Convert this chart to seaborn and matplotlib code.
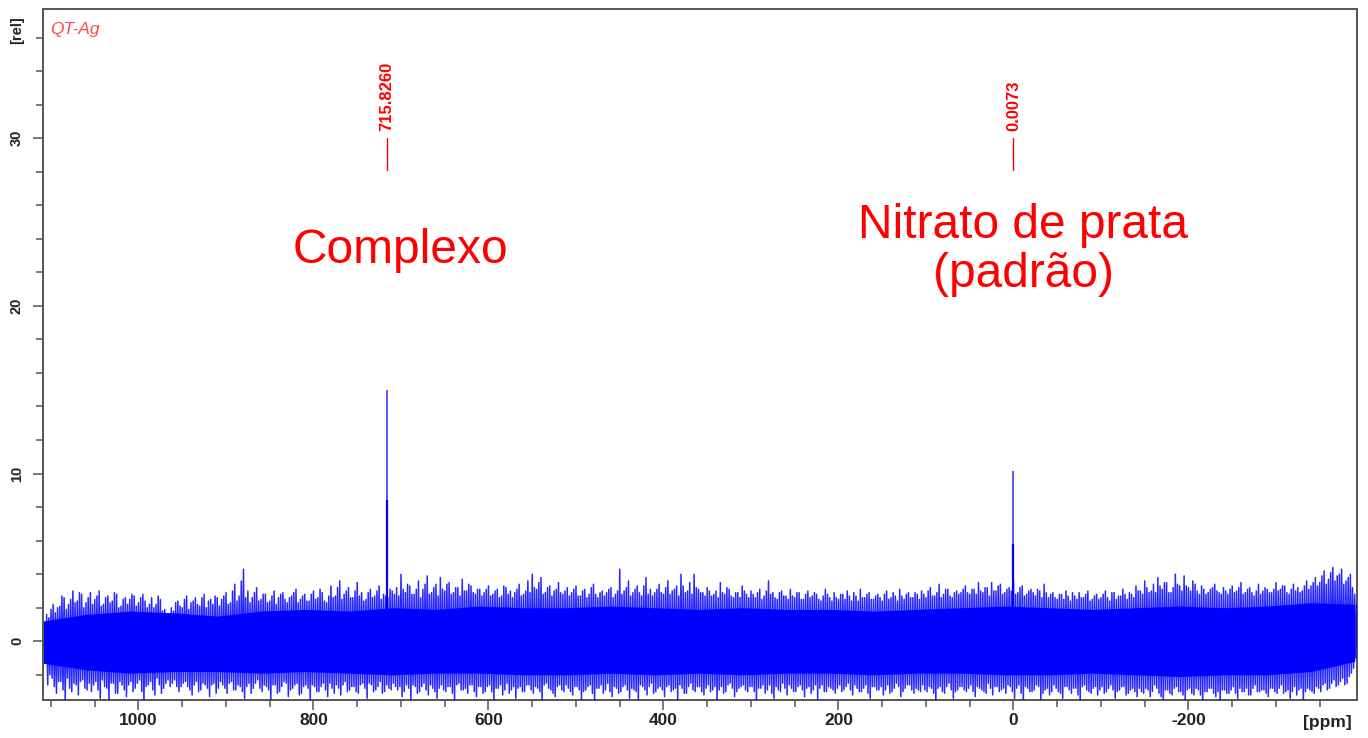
import numpy as np
import pandas as pd
import matplotlib
matplotlib.use("Agg")
import matplotlib.pyplot as plt
import seaborn as sns
from matplotlib.ticker import MultipleLocator, FixedLocator

# ---------------- data ----------------
# noise extremes sampled every 5 ppm from 1105 down to -390 ppm
noise_ppm_start = 1105
noise_ppm_step = -5
noise_hi = [
    1.6, 1.9, 1.7, 2.1, 2.6, 2.2, 3.0, 2.4, 2.8, 2.3,
    2.9, 2.5, 3.0, 2.2, 2.7, 2.4, 2.8, 2.1, 2.6, 2.5,
    2.7, 2.3, 2.8, 2.0, 2.6, 2.2, 2.5, 1.9, 1.5, 1.8,
    2.4, 2.0, 2.7, 2.3, 2.6, 2.1, 2.8, 2.4, 2.2, 2.6,
    2.5, 2.9, 2.3, 3.4, 2.7, 4.3, 3.0, 2.6, 3.2, 2.5,
    2.8, 2.4, 3.0, 2.6, 2.9, 2.3, 2.7, 3.1, 2.5, 2.8,
    2.4, 3.0, 2.6, 2.9, 2.3, 3.3, 2.7, 3.6, 2.8, 3.2,
    2.6, 3.5, 2.9, 2.5, 3.1, 2.7, 3.3, 2.8, 2.6, 3.0,
    3.2, 4.0, 2.9, 3.3, 2.8, 3.6, 3.1, 3.9, 2.9, 3.4,
    3.8, 3.0, 3.5, 2.9, 3.2, 3.7, 3.0, 3.3, 2.8, 3.1,
    2.9, 3.3, 2.8, 3.1, 2.7, 3.2, 3.0, 2.9, 3.4, 2.8,
    3.6, 4.0, 3.1, 3.8, 2.9, 3.3, 3.0, 3.5, 2.8, 3.2,
    2.9, 3.3, 2.7, 3.1, 2.8, 3.4, 2.6, 3.0, 2.9, 3.2,
    2.8, 4.3, 3.0, 3.6, 2.9, 3.3, 2.7, 3.8, 3.1, 2.9,
    3.4, 2.8, 3.6, 3.0, 3.3, 4.0, 2.9, 3.5, 4.0, 3.1,
    2.9, 3.2, 2.7, 3.0, 3.5, 2.8, 3.1, 2.6, 2.9, 3.3,
    2.8, 3.0, 2.6, 3.1, 2.7, 3.6, 2.9, 2.5, 3.0, 2.7,
    3.1, 2.6, 2.9, 2.5, 3.0, 2.7, 2.8, 2.4, 3.1, 2.6,
    2.9, 2.5, 2.8, 3.0, 2.4, 2.7, 3.1, 2.6, 2.9, 2.5,
    2.8, 2.4, 3.0, 2.6, 2.7, 3.1, 2.5, 2.9, 2.6, 2.8,
    3.0, 2.6, 3.2, 2.7, 3.4, 2.8, 3.1, 2.6, 3.0, 2.9,
    3.3, 2.8, 3.1, 3.5, 2.9, 3.2, 3.5, 3.0, 3.4, 2.9,
    3.2, 3.6, 2.9, 3.3, 2.8, 3.1, 2.7, 3.0, 3.4, 2.6,
    2.9, 2.5, 2.8, 3.0, 2.4, 2.7, 2.9, 2.6, 3.0, 2.5,
    2.8, 2.6, 3.0, 2.4, 2.9, 2.7, 3.1, 2.5, 2.8, 3.3,
    3.0, 3.6, 2.9, 3.4, 3.8, 3.1, 3.5, 2.9, 4.0, 3.3,
    3.9, 3.2, 3.6, 3.0, 3.3, 2.8, 3.1, 3.4, 2.9, 3.2,
    2.8, 3.3, 3.0, 3.5, 2.9, 3.2, 2.7, 3.4, 3.0, 3.1,
    2.9, 3.5, 3.1, 3.3, 2.8, 3.4, 3.2, 3.0, 3.6, 3.3,
    3.8, 3.5, 4.2, 3.7, 4.4, 3.9, 4.3, 3.6, 4.0, 2.8,
]
noise_lo = [
    -2.6, -2.2, -3.1, -2.4, -3.6, -2.8, -2.5, -3.2, -2.3, -2.9,
    -3.0, -2.4, -3.4, -2.7, -3.6, -2.5, -3.1, -2.6, -3.3, -2.4,
    -2.8, -2.3, -3.6, -2.6, -2.9, -2.2, -3.1, -2.5, -2.7, -2.3,
    -3.0, -2.5, -2.7, -3.2, -2.4, -2.9, -2.6, -3.3, -2.5, -2.8,
    -2.6, -3.1, -2.4, -2.9, -2.7, -3.4, -2.5, -2.8, -2.3, -3.0,
    -2.7, -3.5, -2.6, -3.0, -2.4, -3.3, -2.8, -2.5, -3.1, -2.6,
    -3.6, -2.7, -3.0, -2.5, -3.3, -2.8, -2.6, -3.2, -2.4, -2.9,
    -2.7, -3.1, -2.5, -3.4, -2.6, -2.9, -2.4, -3.0, -2.8, -2.5,
    -2.9, -3.3, -2.6, -3.6, -2.7, -3.0, -2.5, -3.2, -2.8, -3.4,
    -2.6, -3.0, -2.7, -3.5, -2.5, -2.9, -3.1, -2.6, -3.3, -2.7,
    -3.0, -2.6, -3.6, -2.8, -3.2, -2.5, -2.9, -3.4, -2.7, -3.0,
    -2.6, -3.1, -2.8, -3.6, -2.5, -2.9, -3.3, -2.6, -3.0, -2.8,
    -3.2, -2.7, -3.5, -2.9, -2.6, -3.6, -2.8, -3.1, -2.5, -3.3,
    -2.8, -3.0, -2.6, -3.4, -2.9, -3.6, -2.7, -3.2, -2.5, -3.0,
    -2.7, -3.3, -2.6, -2.9, -3.5, -2.8, -3.1, -2.5, -3.0, -2.7,
    -3.2, -2.6, -2.9, -3.6, -2.7, -3.0, -2.5, -3.3, -2.8, -2.6,
    -3.0, -2.7, -3.6, -2.8, -3.1, -2.6, -3.4, -2.9, -2.5, -3.2,
    -2.8, -3.0, -2.6, -3.3, -2.7, -2.9, -3.5, -2.6, -3.0, -2.8,
    -3.1, -2.6, -2.9, -2.5, -3.2, -2.8, -3.0, -2.6, -3.4, -2.7,
    -2.9, -3.2, -2.6, -3.0, -2.5, -3.3, -2.8, -2.6, -3.1, -2.9,
    -2.6, -3.0, -2.8, -3.6, -2.7, -3.1, -2.5, -3.4, -2.9, -2.7,
    -3.0, -2.6, -3.3, -2.8, -3.0, -2.5, -3.2, -2.7, -2.9, -3.1,
    -2.7, -3.4, -2.6, -3.6, -2.8, -3.0, -2.6, -3.5, -2.9, -3.2,
    -2.6, -3.0, -3.4, -2.7, -3.1, -2.8, -3.6, -2.6, -3.0, -2.8,
    -3.2, -2.7, -3.0, -2.6, -3.4, -2.9, -2.7, -3.1, -2.8, -3.3,
    -3.0, -2.8, -3.3, -2.6, -3.1, -3.6, -2.9, -3.2, -2.7, -3.0,
    -3.5, -2.8, -3.2, -2.9, -3.6, -3.0, -2.8, -3.3, -3.6, -2.9,
    -3.1, -2.7, -3.4, -3.0, -2.8, -3.2, -2.6, -3.0, -2.9, -3.3,
    -2.8, -3.1, -2.6, -3.0, -3.4, -2.7, -2.9, -3.6, -2.8, -3.0,
    -2.7, -3.0, -2.5, -2.8, -2.3, -2.6, -2.2, -2.5, -1.9, -1.0,
]
# in-between samples (offset by 2.5 ppm from the ones above)
noise_hi2 = [
    1.4, 2.2, 2.0, 2.7, 1.9, 2.5, 2.3, 2.9, 2.0, 2.6,
    2.2, 2.7, 2.1, 2.6, 2.3, 2.9, 2.0, 2.5, 2.2, 2.8,
    2.1, 2.6, 2.4, 2.2, 2.0, 2.7, 1.8, 1.6, 2.0, 2.3,
    2.1, 2.5, 1.9, 2.4, 2.2, 2.6, 2.0, 2.5, 2.7, 2.1,
    2.7, 2.2, 3.0, 2.4, 3.6, 2.6, 2.3, 2.9, 2.4, 2.8,
    2.3, 2.7, 2.2, 2.8, 2.5, 2.6, 2.9, 2.3, 2.7, 2.4,
    2.8, 2.5, 3.1, 2.4, 2.7, 2.6, 3.2, 2.5, 3.0, 2.6,
    3.0, 2.7, 2.4, 2.9, 2.6, 3.0, 2.5, 2.7, 3.1, 2.8,
    2.7, 3.1, 3.4, 2.8, 3.1, 2.6, 3.4, 2.8, 3.2, 2.7,
    3.1, 3.4, 2.8, 3.2, 2.7, 3.0, 3.4, 2.9, 3.1, 2.7,
    3.1, 2.7, 3.0, 2.6, 3.3, 2.8, 2.6, 3.1, 2.7, 3.0,
    2.9, 3.2, 3.5, 2.8, 3.2, 2.7, 3.1, 2.9, 3.0, 2.7,
    3.1, 2.7, 3.0, 2.6, 3.2, 2.8, 2.9, 2.7, 3.1, 2.6,
    3.0, 2.8, 3.2, 2.7, 3.1, 2.9, 3.3, 2.8, 2.7, 3.1,
    2.9, 3.2, 2.8, 3.1, 2.7, 3.3, 3.0, 2.8, 3.2, 2.9,
    2.7, 3.0, 2.8, 2.6, 2.9, 3.2, 2.7, 2.9, 2.6, 3.0,
    2.6, 2.8, 2.9, 2.5, 3.0, 2.8, 2.6, 2.9, 2.7, 2.5,
    2.7, 2.9, 2.5, 2.8, 2.6, 2.9, 2.5, 2.7, 2.8, 2.4,
    2.6, 2.8, 2.5, 2.7, 2.9, 2.4, 2.6, 2.8, 2.5, 2.7,
    2.6, 2.8, 2.5, 2.9, 2.4, 2.7, 2.8, 2.6, 2.9, 2.5,
    2.8, 3.0, 2.7, 2.9, 2.6, 3.1, 2.7, 2.9, 2.8, 3.1,
    2.9, 3.1, 2.8, 3.0, 3.2, 2.7, 3.0, 3.3, 2.8, 3.1,
    3.0, 2.8, 3.2, 2.7, 3.0, 2.9, 3.1, 2.6, 2.9, 2.8,
    2.6, 2.8, 2.5, 2.7, 2.9, 2.5, 2.6, 2.8, 2.4, 2.7,
    2.5, 2.8, 2.6, 2.9, 2.5, 2.7, 2.8, 2.9, 2.6, 3.0,
    2.8, 3.2, 3.0, 2.9, 3.3, 3.5, 2.9, 3.2, 3.4, 3.0,
    3.3, 3.0, 3.4, 2.8, 3.1, 2.9, 3.2, 3.0, 2.8, 3.0,
    3.1, 2.9, 3.2, 2.8, 3.1, 2.9, 3.0, 2.8, 3.2, 2.9,
    3.1, 3.0, 3.3, 2.9, 3.1, 3.0, 2.9, 3.3, 3.1, 3.5,
    3.3, 3.9, 3.4, 4.1, 3.6, 4.0, 3.4, 3.8, 3.2, 2.2,
]
noise_lo2 = [
    -2.0, -2.7, -2.4, -2.9, -2.2, -3.0, -2.6, -2.4, -2.8, -2.5,
    -2.6, -2.9, -2.3, -2.8, -2.5, -3.1, -2.4, -2.9, -2.6, -3.0,
    -2.5, -3.0, -2.7, -2.4, -3.2, -2.6, -2.8, -2.3, -2.5, -2.7,
    -2.7, -2.4, -2.9, -2.6, -3.0, -2.5, -2.8, -2.6, -3.1, -2.4,
    -2.8, -2.5, -2.9, -2.6, -3.0, -2.7, -3.1, -2.5, -2.8, -2.6,
    -2.9, -2.6, -3.1, -2.7, -2.5, -2.9, -2.6, -3.2, -2.7, -2.8,
    -2.6, -3.0, -2.7, -2.9, -2.5, -3.1, -2.8, -2.6, -3.0, -2.7,
    -3.0, -2.6, -2.8, -2.5, -3.0, -2.7, -3.1, -2.6, -2.9, -2.7,
    -2.7, -3.0, -2.8, -2.6, -3.1, -2.7, -2.9, -2.6, -3.0, -2.8,
    -2.9, -2.7, -3.1, -2.6, -2.9, -2.8, -2.6, -3.0, -2.7, -3.1,
    -2.7, -3.0, -2.8, -2.6, -2.9, -3.1, -2.7, -2.8, -3.0, -2.6,
    -2.9, -2.7, -3.0, -2.6, -2.8, -3.1, -2.7, -2.9, -2.6, -3.0,
    -2.7, -2.9, -3.0, -2.7, -3.1, -2.8, -2.6, -2.9, -3.0, -2.7,
    -3.1, -2.7, -2.9, -2.8, -3.0, -2.6, -2.9, -2.7, -3.1, -2.8,
    -2.9, -2.7, -3.0, -2.8, -2.6, -3.1, -2.7, -2.9, -2.7, -3.0,
    -2.8, -3.0, -2.7, -2.9, -3.1, -2.6, -2.8, -3.0, -2.7, -2.9,
    -2.7, -3.0, -2.8, -2.6, -2.9, -3.1, -2.7, -3.0, -2.8, -2.6,
    -3.0, -2.7, -2.9, -2.8, -3.1, -2.6, -2.8, -3.0, -2.7, -2.9,
    -2.8, -3.0, -2.7, -2.9, -2.6, -3.0, -2.8, -3.1, -2.7, -2.9,
    -2.7, -2.9, -3.1, -2.8, -2.7, -3.0, -2.6, -2.9, -2.8, -3.0,
    -2.9, -2.7, -3.1, -2.8, -3.0, -2.7, -2.9, -3.0, -2.7, -2.9,
    -2.8, -3.0, -2.7, -2.9, -3.1, -2.8, -2.7, -3.0, -2.8, -2.6,
    -3.0, -2.8, -3.1, -2.7, -3.0, -2.9, -2.7, -3.1, -2.8, -3.0,
    -2.8, -3.1, -2.7, -2.9, -2.8, -3.2, -2.7, -2.9, -3.1, -2.7,
    -2.9, -3.1, -2.8, -2.9, -3.0, -2.7, -3.2, -2.9, -3.0, -2.8,
    -3.1, -2.9, -3.0, -2.8, -3.3, -2.9, -3.1, -2.8, -3.0, -3.2,
    -2.9, -3.1, -2.8, -3.2, -3.0, -2.8, -3.1, -3.0, -2.9, -3.1,
    -2.9, -3.1, -2.8, -3.0, -3.2, -2.8, -3.0, -2.9, -3.1, -2.8,
    -3.0, -2.8, -3.1, -2.9, -3.0, -3.2, -2.8, -3.0, -2.9, -3.1,
    -2.8, -2.6, -2.9, -2.5, -2.7, -2.4, -2.6, -2.1, -1.6, -0.9,
]
# dense (solid) core of the noise band, every 50 ppm from 1110 to -390
core_ppm = [1110, 1060, 1010, 960, 910, 860, 810, 760, 710, 660, 610,
            560, 510, 460, 410, 360, 310, 260, 210, 160, 110, 60, 10,
            -40, -90, -140, -190, -240, -290, -340, -390]
core_hi = [1.2, 1.6, 1.8, 1.7, 1.5, 1.8, 1.9, 1.8, 2.0, 1.9, 2.1,
           2.0, 2.0, 2.1, 2.0, 1.9, 2.0, 1.9, 1.9, 1.8, 1.9, 2.0, 2.1,
           2.0, 1.9, 2.0, 2.1, 2.0, 2.1, 2.3, 2.2]
core_lo = [-1.3, -1.7, -1.9, -1.8, -1.8, -1.9, -1.8, -1.9, -2.0, -1.9, -1.9,
           -2.0, -2.0, -1.9, -2.0, -1.9, -2.0, -1.9, -1.9, -2.0, -1.9, -1.9,
           -2.0, -2.0, -1.9, -2.0, -2.1, -2.0, -2.0, -1.8, -1.2]
# signals
peak_ppm = [715.8260, 0.0073]
peak_top = [15.0, 10.15]
peak_mid = [8.4, 5.8]
peak_names = ["Complexo", "Nitrato de prata\n(padrão)"]

x_major_ticks = [1000, 800, 600, 400, 200, 0, -200]
x_major_labels = ["1000", "800", "600", "400", "200", "0", "-200"]
y_major_ticks = [0, 10, 20, 30]

# ---------------- figure ----------------
sns.set_theme(style="white")
plt.rcParams['font.family'] = ['Liberation Sans', 'DejaVu Sans']

W, H = 1368, 738
fig = plt.figure(figsize=(W / 100, H / 100), dpi=100)
ax = fig.add_axes([0.0312, 0.0515, 0.9605, 0.9363])

BLUE = "#0000ff"
RED = "#ff0000"
GREY = "#555555"

n = len(noise_hi)
ppm = noise_ppm_start + noise_ppm_step * np.arange(n)
q = noise_ppm_step / 4
xs = np.empty(4 * n)
ys = np.empty(4 * n)
xs[0::4] = ppm
xs[1::4] = ppm + q
xs[2::4] = ppm + 2 * q
xs[3::4] = ppm + 3 * q
ys[0::4] = noise_hi
ys[1::4] = noise_lo
ys[2::4] = noise_hi2
ys[3::4] = noise_lo2
df = pd.DataFrame({"ppm": xs, "rel": ys})

ax.fill_between(core_ppm, core_lo, core_hi, color=BLUE, lw=0, zorder=2)
sns.lineplot(data=df, x="ppm", y="rel", sort=False, estimator=None,
             color=BLUE, lw=1.1, alpha=0.85, ax=ax, zorder=3)
ax.vlines(peak_ppm, 0, peak_top, color=BLUE, lw=1.3, alpha=0.7, zorder=4)
ax.vlines(peak_ppm, 0, peak_mid, color=BLUE, lw=1.6, zorder=5)

ax.set_xlim(1109.5, -392.2)
ax.set_ylim(-3.5, 37.7)
ax.set_xlabel("")
ax.set_ylabel("")

ax.xaxis.set_major_locator(FixedLocator(x_major_ticks))
ax.set_xticklabels(x_major_labels)
ax.xaxis.set_minor_locator(MultipleLocator(50))
ax.yaxis.set_major_locator(FixedLocator(y_major_ticks))
ax.yaxis.set_minor_locator(MultipleLocator(2))
ax.tick_params(axis="both", which="major", direction="out", length=7.5,
               width=1.1, color=GREY, bottom=True, left=True)
ax.tick_params(axis="both", which="minor", direction="out", length=5,
               width=1.1, color=GREY, bottom=True, left=True)
ax.tick_params(axis="x", which="major", labelsize=12.5, pad=2, labelcolor="#222222")
ax.tick_params(axis="y", which="major", labelsize=10.5, pad=6, labelcolor="#222222")
for lab in ax.get_xticklabels():
    lab.set_fontweight("bold")
for lab in ax.get_yticklabels():
    lab.set_fontweight("bold")
    lab.set_rotation(90)
    lab.set_va("center")
for sp in ax.spines.values():
    sp.set_visible(True)
    sp.set_color(GREY)
    sp.set_linewidth(1.4)

# peak labels
for p in peak_ppm:
    ax.plot([p, p], [28.1, 30.0], color=RED, lw=1.0, zorder=6)
    ax.text(p, 30.45, f"{p:.4f}", rotation=90, ha="center", va="bottom",
            color=RED, fontsize=12, fontweight="bold")

def fx(px):
    return px / W

def fy(py):
    return 1 - py / H

fig.text(fx(50), fy(34), "QT-Ag", fontsize=12.5, style="italic",
         color="#ff4848", ha="left", va="baseline")
fig.text(fx(17), fy(30), "[rel]", fontsize=10.5, fontweight="bold",
         rotation=90, ha="center", va="center", color="#222222")
fig.text(fx(1327), fy(722), "[ppm]", fontsize=12.5, fontweight="bold",
         ha="center", va="center", color="#222222")

fig.text(fx(293), fy(263), peak_names[0], fontsize=34.5, color=RED,
         ha="left", va="baseline")
line1, line2 = peak_names[1].split("\n")
fig.text(fx(1023.4), fy(238.3), line1, fontsize=34.5, color=RED,
         ha="center", va="baseline")
fig.text(fx(1023.4), fy(286.7), line2, fontsize=34.5, color=RED,
         ha="center", va="baseline")

fig.savefig("out.png", dpi=100)
